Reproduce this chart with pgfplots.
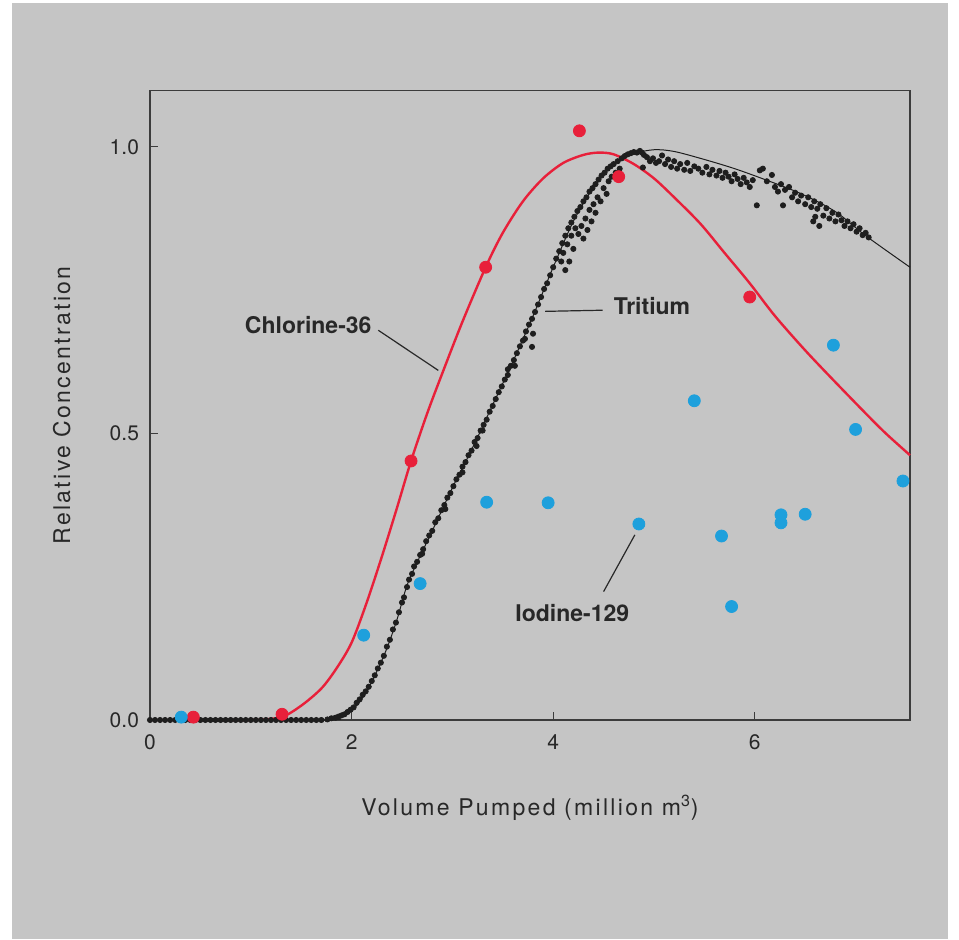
\documentclass[border=0pt]{standalone}
\usepackage{fontspec}
\setmainfont{TeX Gyre Heros}
\usepackage{pgfplots}
\pgfplotsset{compat=1.18}
\definecolor{bgGray}{RGB}{197,197,197}
\definecolor{axisInk}{RGB}{60,60,60}
\definecolor{textInk}{RGB}{40,40,40}
\definecolor{clRed}{RGB}{232,32,58}
\definecolor{iBlue}{RGB}{30,160,220}
\definecolor{trInk}{RGB}{30,30,30}

\begin{document}
\begin{tikzpicture}
\useasboundingbox (-75pt,-109.5pt) rectangle (404.5pt,360pt);
\fill[white] (-75pt,-109.5pt) rectangle (404.5pt,360pt);
\fill[bgGray] (-69pt,-109.5pt) rectangle (399pt,358.5pt);
\begin{axis}[
    at={(0,0)}, anchor=south west,
    scale only axis, width=380pt, height=314.65pt,
    xmin=0, xmax=7.54, ymin=0, ymax=1.098,
    clip=false,
    axis line style={axisInk, line width=0.65pt},
    tick style={axisInk, line width=0.6pt},
    tick align=inside, tick pos=left,
    major tick length=4pt,
    xtick={0,2,4,6}, xticklabels={0,2,4,6},
    ytick={0,0.5,1}, yticklabels={0.0,0.5,1.0},
    tick label style={font=\fontsize{10.5}{12}\selectfont, text=textInk},
    yticklabel style={anchor=east, xshift=-2pt},
    xticklabel style={anchor=north, yshift=-4pt},
    /pgf/number format/assume math mode=true,
    label style={font=\fontsize{11.5}{13}\selectfont\addfontfeature{LetterSpace=10}, text=textInk},
    xlabel={Volume Pumped (million m\textsuperscript{3})},
    ylabel={Relative Concentration},
    xlabel style={at={(axis description cs:0.5,-0.14)}, anchor=center},
    ylabel style={at={(axis description cs:-0.116,0.5)}, anchor=center, rotate=0},
]
% tritium samples
\addplot[only marks, mark=*, mark size=1.3pt, trInk] coordinates {
(0.00,0) (0.05,0) (0.10,0) (0.15,0) (0.20,0) (0.25,0) (0.30,0) (0.35,0) (0.40,0)
(0.45,0) (0.50,0) (0.55,0) (0.60,0) (0.65,0) (0.70,0) (0.75,0) (0.80,0) (0.85,0)
(0.90,0) (0.95,0) (1.00,0) (1.05,0) (1.10,0) (1.15,0) (1.20,0) (1.25,0) (1.30,0)
(1.35,0) (1.40,0) (1.45,0) (1.50,0) (1.55,0) (1.60,0) (1.65,0) (1.70,0)
(1.76,0.001) (1.80,0.003) (1.84,0.004) (1.87,0.006) (1.90,0.008) (1.93,0.010)
(1.96,0.014) (1.99,0.018) (2.02,0.022) (2.05,0.030) (2.08,0.036) (2.11,0.044)
(2.14,0.050) (2.17,0.058) (2.20,0.068) (2.23,0.078) (2.26,0.090) (2.29,0.100)
(2.32,0.112) (2.35,0.128) (2.38,0.140) (2.41,0.158) (2.44,0.170) (2.47,0.188)
(2.50,0.205) (2.52,0.214) (2.55,0.232) (2.57,0.245) (2.60,0.255) (2.62,0.268)
(2.65,0.276) (2.68,0.288) (2.70,0.290) (2.71,0.298) (2.74,0.312) (2.77,0.322)
(2.80,0.330) (2.83,0.345) (2.86,0.352) (2.89,0.366) (2.92,0.375) (2.93,0.368)
(2.95,0.388) (2.98,0.396) (3.01,0.408) (3.04,0.420) (3.07,0.428) (3.10,0.442)
(3.10,0.432) (3.13,0.450) (3.16,0.462) (3.19,0.470) (3.22,0.485) (3.24,0.478)
(3.25,0.492) (3.28,0.505) (3.30,0.505) (3.31,0.515) (3.34,0.524) (3.37,0.538)
(3.40,0.548) (3.43,0.560) (3.46,0.572) (3.49,0.582) (3.52,0.594) (3.55,0.602)
(3.55,0.612) (3.58,0.618) (3.61,0.628) (3.62,0.618) (3.64,0.640) (3.67,0.652)
(3.70,0.662) (3.72,0.665) (3.73,0.678) (3.76,0.690) (3.79,0.700) (3.79,0.651)
(3.80,0.674) (3.82,0.712) (3.85,0.725) (3.88,0.738) (3.91,0.752) (3.94,0.762)
(3.97,0.776) (4.00,0.790) (4.03,0.805) (4.06,0.818) (4.09,0.832) (4.12,0.845)
(4.15,0.858) (4.18,0.868) (4.21,0.878) (4.24,0.888) (4.27,0.895) (4.30,0.905)
(4.33,0.912) (4.36,0.922) (4.39,0.928) (4.42,0.935) (4.45,0.943) (4.48,0.950)
(4.51,0.955) (4.54,0.962) (4.57,0.966) (4.60,0.970)
(4.08,0.800) (4.10,0.815) (4.12,0.785) (4.14,0.830) (4.16,0.800) (4.18,0.845)
(4.20,0.822) (4.22,0.858) (4.25,0.848) (4.28,0.862) (4.30,0.840) (4.32,0.875)
(4.34,0.855) (4.36,0.890) (4.38,0.870) (4.40,0.900) (4.42,0.885) (4.44,0.912)
(4.47,0.905) (4.50,0.928) (4.53,0.918) (4.55,0.940) (4.58,0.948) (4.62,0.955)
(4.66,0.962)
(4.64,0.975) (4.68,0.980) (4.71,0.984) (4.74,0.987) (4.77,0.989) (4.80,0.991)
(4.83,0.990) (4.86,0.993) (4.88,0.990) (4.89,0.964) (4.90,0.986) (4.93,0.982)
(4.96,0.975) (4.99,0.980) (5.02,0.972) (5.05,0.975) (5.08,0.985) (5.11,0.970)
(5.14,0.978) (5.17,0.965) (5.20,0.975) (5.23,0.962) (5.26,0.970) (5.30,0.960)
(5.33,0.972) (5.36,0.958) (5.40,0.966)
(5.44,0.962) (5.48,0.955) (5.52,0.965) (5.55,0.952) (5.58,0.960) (5.62,0.950)
(5.65,0.958) (5.68,0.946) (5.71,0.955) (5.74,0.948) (5.77,0.940) (5.80,0.952)
(5.83,0.944) (5.86,0.935) (5.89,0.946) (5.92,0.938) (5.95,0.930) (5.98,0.942)
(6.02,0.898) (6.05,0.959) (6.08,0.962) (6.12,0.940) (6.17,0.951) (6.20,0.930)
(6.23,0.922) (6.26,0.935) (6.28,0.898) (6.30,0.925) (6.34,0.930) (6.37,0.912)
(6.40,0.920) (6.43,0.905) (6.46,0.915) (6.50,0.900) (6.53,0.912) (6.56,0.895)
(6.58,0.870) (6.59,0.905) (6.60,0.878) (6.62,0.892) (6.64,0.862) (6.65,0.900)
(6.68,0.880) (6.71,0.893) (6.74,0.875) (6.77,0.885) (6.80,0.870) (6.83,0.882)
(6.86,0.872) (6.89,0.862) (6.92,0.870) (6.95,0.858) (6.98,0.865) (7.01,0.852)
(7.04,0.858) (7.07,0.846) (7.10,0.850) (7.13,0.842)
};
% tritium fitted curve
\addplot[trInk, line width=0.5pt, smooth] coordinates {
(0,0) (1.75,0.000) (1.85,0.004) (1.95,0.012) (2.05,0.025) (2.15,0.050)
(2.25,0.085) (2.35,0.125) (2.45,0.175) (2.55,0.235) (2.65,0.275) (2.80,0.330)
(3.00,0.405) (3.20,0.475) (3.40,0.550) (3.60,0.625) (3.80,0.705) (4.00,0.790)
(4.20,0.870) (4.40,0.930) (4.60,0.970) (4.80,0.988) (5.00,0.995) (5.20,0.992)
(5.50,0.978) (5.80,0.962) (6.10,0.943) (6.45,0.919) (6.80,0.887) (7.10,0.845)
(7.54,0.790)
};
% chlorine-36 curve
\addplot[clRed, line width=1.2pt, smooth] coordinates {
(0,0) (0.4,0) (1.0,0) (1.3,0.005) (1.5,0.025) (1.7,0.055) (1.85,0.09) (2.0,0.135)
(2.15,0.205) (2.3,0.285) (2.45,0.370) (2.59,0.452) (2.75,0.535) (2.9,0.605)
(3.1,0.695) (3.33,0.79) (3.5,0.85) (3.7,0.905)
(3.9,0.945) (4.1,0.972) (4.3,0.986) (4.45,0.99) (4.6,0.987) (4.8,0.97)
(5.0,0.945) (5.2,0.912) (5.46,0.866) (5.7,0.815) (5.95,0.762) (6.2,0.705)
(6.5,0.645) (6.78,0.593) (7.1,0.535) (7.3,0.50) (7.54,0.462)
};
% chlorine-36 measured
\addplot[only marks, mark=*, mark size=3pt, clRed] coordinates {
(0.43,0.005) (1.31,0.01) (2.59,0.452) (3.33,0.79) (4.26,1.028) (4.65,0.948) (5.95,0.738)
};
% iodine-129 measured
\addplot[only marks, mark=*, mark size=3pt, iBlue] coordinates {
(0.31,0.005) (2.12,0.148) (2.68,0.238) (3.34,0.38) (3.95,0.379) (4.85,0.342)
(5.40,0.557) (5.67,0.321) (5.77,0.198) (6.26,0.358) (6.26,0.344) (6.50,0.359)
(6.78,0.654) (7.00,0.507) (7.47,0.417)
};
% labels
\node[font=\bfseries\fontsize{11.5}{13}\selectfont, text=textInk] at (axis cs:1.57,0.689) {Chlorine-36};
\draw[textInk, line width=0.6pt] (axis cs:2.265,0.680) -- (axis cs:2.86,0.610);
\node[font=\bfseries\fontsize{11.5}{13}\selectfont, text=textInk] at (axis cs:4.98,0.722) {Tritium};
\draw[textInk, line width=0.6pt] (axis cs:3.92,0.713) -- (axis cs:4.49,0.715);
\node[font=\bfseries\fontsize{11.5}{13}\selectfont, text=textInk] at (axis cs:4.19,0.187) {Iodine-129};
\draw[textInk, line width=0.6pt] (axis cs:4.50,0.224) -- (axis cs:4.81,0.323);
\end{axis}
\end{tikzpicture}
\end{document}
